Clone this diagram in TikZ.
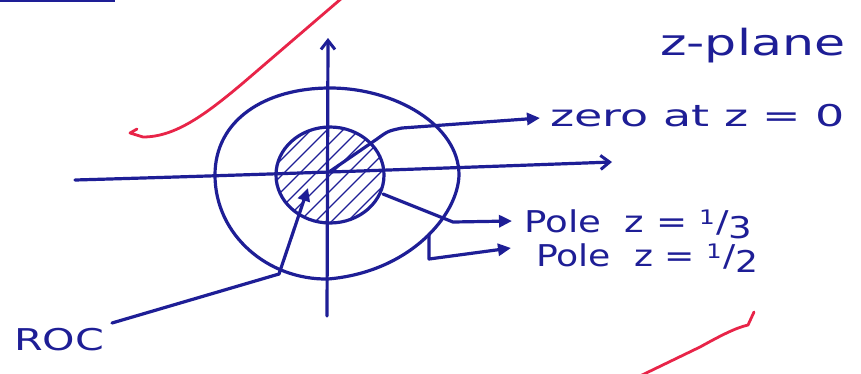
\documentclass[tikz,border=0pt]{standalone}
\usepackage{fontspec}
\setmainfont{DejaVu Sans}
\usetikzlibrary{arrows.meta}
\definecolor{ink}{RGB}{30,30,150}
\definecolor{redink}{RGB}{232,36,72}
\newcommand\hw[2]{\resizebox{#1}{\height}{#2}}
\newcommand\hfr[2]{\raisebox{8pt}{\fontsize{20}{20}\selectfont #1}\kern1pt/\kern0pt\raisebox{-6pt}{#2}}
\begin{document}
\begin{tikzpicture}[x=1pt,y=-1pt,
  pen/.style={draw=ink,line width=3.2pt,line cap=round,line join=round},
  redpen/.style={draw=redink,line width=2.8pt,line cap=round,line join=round},
  axisarrow/.style={pen,-{Straight Barb[length=9pt,width=14pt,line width=3pt]}},
  pointer/.style={pen,-{Triangle[length=13pt,width=12pt]}},
  hatch/.style={draw=ink,line width=1.2pt},
  label/.style={text=ink,font=\fontsize{30}{32}\selectfont,anchor=base west,inner sep=0pt}]
\useasboundingbox (0,0) rectangle (861,373);
\fill[white] (0,0) rectangle (861,373);
% scan stroke at top left
\draw[draw=ink,line width=2.5pt] (0,1) -- (115,1);
% red marks
\draw[redpen] (342,-2) -- (243,83) .. controls (205,115) and (175,137) .. (143,137) -- (130,133) -- (137,129);
\draw[redpen] (640,376) -- (700,347) .. controls (720,336) and (735,328) .. (748,325) -- (754,312);
% coordinates
\coordinate (O) at (329,172);
\coordinate (xl) at (75,180);
\coordinate (xr) at (612,162);
\coordinate (yb) at (327,316);
\coordinate (yt) at (328,38);
% axes
\draw[axisarrow] (xl) .. controls (250,175) and (450,168) .. (xr);
\draw[axisarrow] (yb) -- (yt);
% outer closed curve
\draw[pen] (330,88) .. controls (395,88) and (459,125) .. (459,175)
  .. controls (458,215) and (410,272) .. (328,279)
  .. controls (268,280) and (215,235) .. (215,175)
  .. controls (215,120) and (265,88) .. cycle;
% inner shaded circle
\begin{scope}
\clip (330,175) ellipse [x radius=54pt, y radius=48pt];
\foreach \i in {-128,-112,...,128} \draw[hatch] (330+\i-70,175+70) -- (330+\i+70,175-70);
\end{scope}
\draw[pen] (330,175) ellipse [x radius=54pt, y radius=48pt];
% labels
\node[label,font=\fontsize{36}{38}\selectfont] (zp) at (660,55) {\hw{185pt}{z-plane}};
\node[label] (zero) at (550,126) {\hw{295pt}{zero at z = 0}};
\node[label] (p3) at (524,232) {\hw{228pt}{Pole\ \ z = \hfr{1}{3}}};
\node[label] (p2) at (536,266) {\hw{222pt}{Pole\ \ z = \hfr{1}{2}}};
\node[label] (roc) at (14,350) {\hw{90pt}{ROC}};
% pointers
\coordinate (a1) at (377,139);
\coordinate (a2) at (402,128);
\coordinate (zt) at (540,118);
\draw[pointer] (O) -- (a1) .. controls (388,131) .. (a2) -- (zt);
\coordinate (b0) at (383,194);
\coordinate (b1) at (453,222);
\coordinate (bt) at (512,221);
\draw[pointer] (b0) -- (b1) -- (bt);
\coordinate (c0) at (429,235);
\coordinate (c1) at (429,259);
\coordinate (ct) at (511,248);
\draw[pointer] (c0) -- (c1) -- (ct);
\coordinate (r0) at (112,323);
\coordinate (r1) at (279,274);
\coordinate (rt) at (308,188);
\draw[pointer] (r0) -- (r1) -- (rt);
\end{tikzpicture}
\end{document}
